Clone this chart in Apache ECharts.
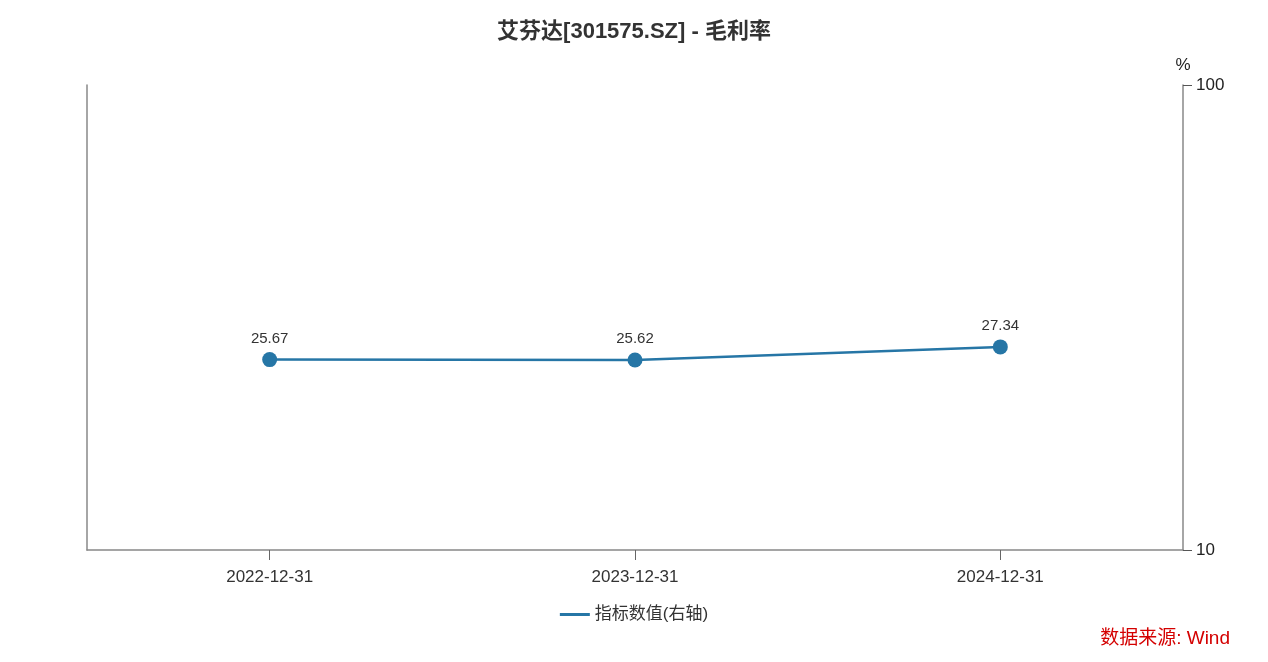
<!DOCTYPE html>
<html>
<head>
<meta charset="utf-8">
<script src="https://cdn.jsdelivr.net/npm/echarts@6/dist/echarts.min.js"></script>
<style>
html,body{margin:0;padding:0;background:#fff;}
#main{width:1268px;height:662px;}
</style>
</head>
<body>
<div id="main"></div>
<script>
const categories = ['2022-12-31', '2023-12-31', '2024-12-31'];
const grossMargin = [25.67, 25.62, 27.34];
const seriesName = '指标数值(右轴)';
const titleText = '艾芬达[301575.SZ] - 毛利率';
const sourceText = '数据来源: Wind';

const chart = echarts.init(document.getElementById('main'));
const font = '"Liberation Sans", Arial, "Noto Sans CJK SC", sans-serif';
const lineColor = '#2676a6';
chart.setOption({
  animation: false,
  textStyle: { fontFamily: font },
  title: {
    text: titleText,
    left: 'center',
    top: 16,
    textStyle: { fontSize: 22, fontWeight: 'bold', color: '#333', fontFamily: font }
  },
  graphic: [{
    type: 'text',
    right: 38,
    top: 629,
    style: { text: sourceText, fill: '#d40000', fontSize: 19, fontFamily: font }
  }],
  legend: {
    bottom: 34,
    left: 'center',
    itemWidth: 30,
    itemHeight: 3,
    itemGap: 10,
    icon: 'rect',
    textStyle: { fontSize: 17, color: '#333', fontFamily: font },
    data: [{ name: seriesName, icon: 'rect' }]
  },
  grid: { left: 87, right: 85, top: 85, bottom: 112, containLabel: false },
  xAxis: {
    type: 'category',
    data: categories,
    boundaryGap: true,
    axisLine: { show: true, lineStyle: { color: '#888', width: 1.5 } },
    axisTick: { show: true, alignWithLabel: true, length: 10, lineStyle: { color: '#666', width: 1 } },
    axisLabel: { fontSize: 17, color: '#333', margin: 19, fontFamily: font }
  },
  yAxis: [{
    type: 'log',
    position: 'right',
    logBase: 10,
    min: 10,
    max: 100,
    name: '%',
    nameLocation: 'end',
    nameGap: 11,
    nameTextStyle: { fontSize: 17, color: '#222', align: 'center', padding: [0, 0, 0, 0], fontFamily: font },
    axisLine: { show: true, lineStyle: { color: '#888', width: 1.5 } },
    axisTick: { show: true, inside: false, length: 9, lineStyle: { color: '#555', width: 1 } },
    axisLabel: { fontSize: 17, color: '#222', margin: 13, fontFamily: font },
    splitLine: { show: false },
    minorTick: { show: false }
  }, {
    type: 'value',
    position: 'left',
    min: 0,
    max: 1,
    axisLine: { show: true, lineStyle: { color: '#888', width: 1.5 } },
    axisTick: { show: false },
    axisLabel: { show: false },
    splitLine: { show: false }
  }],
  series: [{
    name: seriesName,
    type: 'line',
    yAxisIndex: 0,
    data: grossMargin,
    symbol: 'circle',
    symbolSize: 15,
    color: lineColor,
    lineStyle: { width: 2.5, color: lineColor },
    itemStyle: { color: lineColor },
    label: {
      show: true,
      position: 'top',
      distance: 6,
      fontSize: 15,
      color: '#333',
      fontFamily: font,
      formatter: p => p.value.toFixed(2)
    }
  }]
});
</script>
</body>
</html>
